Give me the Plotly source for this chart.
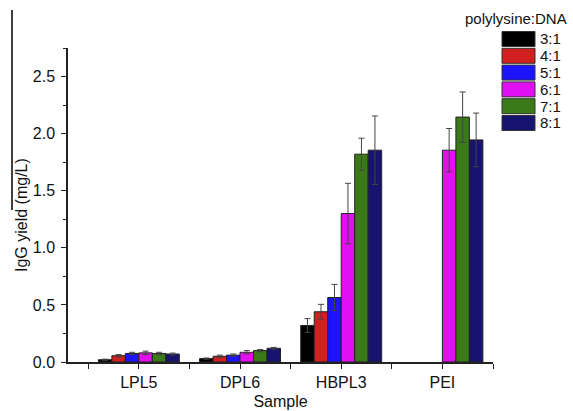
import plotly.graph_objects as go

samples = ["LPL5", "DPL6", "HBPL3", "PEI"]
ratios = ["3:1", "4:1", "5:1", "6:1", "7:1", "8:1"]
colors = ["#000000", "#d21f1f", "#1c14ff", "#e010f2", "#3a7a18", "#16146e"]

yield_31 = [0.02, 0.03, 0.32, None]
yield_41 = [0.055, 0.05, 0.44, None]
yield_51 = [0.075, 0.06, 0.565, None]
yield_61 = [0.08, 0.085, 1.30, 1.855]
yield_71 = [0.075, 0.10, 1.82, 2.145]
yield_81 = [0.07, 0.12, 1.855, 1.945]

err_31 = [0.005, 0.005, 0.06, None]
err_41 = [0.01, 0.01, 0.065, None]
err_51 = [0.01, 0.01, 0.115, None]
err_61 = [0.015, 0.015, 0.265, 0.19]
err_71 = [0.01, 0.01, 0.14, 0.22]
err_81 = [0.008, 0.008, 0.30, 0.235]

values = [yield_31, yield_41, yield_51, yield_61, yield_71, yield_81]
errors = [err_31, err_41, err_51, err_61, err_71, err_81]

xpos = list(range(len(samples)))
font = "Arial, Liberation Sans, sans-serif"

W, H = 573, 411
ML, MR, MT, MB = 68, 80, 48, 49
PW, PH = W - ML - MR, H - MT - MB


def px(x):
    return (x - ML) / PW


def py(y):
    return (H - MB - y) / PH


fig = go.Figure()
for name, col, v, e in zip(ratios, colors, values, errors):
    fig.add_trace(go.Bar(
        x=xpos, y=v, name=name, showlegend=False,
        marker=dict(color=col, line=dict(color="#222222", width=1)),
        error_y=dict(type="data", array=e, visible=True, color="#444444",
                     thickness=1, width=3),
    ))

# manual legend (large swatches like the reference)
shapes = [dict(type="line", xref="paper", yref="paper",
               x0=px(12), x1=px(12), y0=py(10), y1=py(210),
               line=dict(color="black", width=1.5))]
annotations = [
    dict(text="polylysine:DNA", xref="paper", yref="paper",
         x=px(516), y=py(18), xanchor="center", yanchor="middle",
         showarrow=False, font=dict(size=15)),
    dict(text="IgG yield (mg/L)", xref="paper", yref="paper",
         x=px(21), y=py(215), xanchor="center", yanchor="middle",
         textangle=-90, showarrow=False, font=dict(size=16)),
]
for i, (name, col) in enumerate(zip(ratios, colors)):
    yc = 39 + 16.8 * i
    shapes.append(dict(type="rect", xref="paper", yref="paper",
                       x0=px(502), x1=px(535), y0=py(yc - 7.5), y1=py(yc + 7.5),
                       fillcolor=col, line=dict(color="#333333", width=1)))
    annotations.append(dict(text=name, xref="paper", yref="paper",
                            x=px(538), y=py(yc), xanchor="left", yanchor="middle",
                            showarrow=False, font=dict(size=15)))

fig.update_layout(
    width=W, height=H,
    margin=dict(l=ML, r=MR, t=MT, b=MB),
    paper_bgcolor="white", plot_bgcolor="white",
    barmode="group", bargap=0.2, bargroupgap=0,
    font=dict(family=font, size=15, color="#111111"),
    showlegend=False,
    annotations=annotations,
    shapes=shapes,
)

fig.update_xaxes(
    range=[-0.7, 3.5], tickmode="array", tickvals=xpos, ticktext=samples,
    showline=True, linecolor="#222222", linewidth=1.5,
    ticks="outside", ticklen=5, tickcolor="#222222",
    minor=dict(tickmode="array", tickvals=[-0.5, 0.5, 1.5, 2.5, 3.5],
               ticks="outside", ticklen=5, tickcolor="#222222"),
    showgrid=False, zeroline=False, automargin=False,
    title=dict(text="Sample", font=dict(size=16), standoff=6),
    tickfont=dict(size=16),
)
fig.update_yaxes(
    range=[0, 2.75], tickmode="array", tickvals=[0, 0.5, 1.0, 1.5, 2.0, 2.5],
    ticktext=["0.0", "0.5", "1.0", "1.5", "2.0", "2.5"],
    showline=True, linecolor="#222222", linewidth=1.5,
    ticks="outside", ticklen=5, tickcolor="#222222",
    minor=dict(tickmode="array", tickvals=[0.25, 0.75, 1.25, 1.75, 2.25, 2.75],
               ticks="outside", ticklen=3, tickcolor="#222222"),
    showgrid=False, zeroline=False, automargin=False,
    tickfont=dict(size=16), ticklabelstandoff=3,
)

fig.write_html("out.html", config={"displayModeBar": False},
               post_script="document.body.style.margin='0';document.body.style.overflow='hidden';")
